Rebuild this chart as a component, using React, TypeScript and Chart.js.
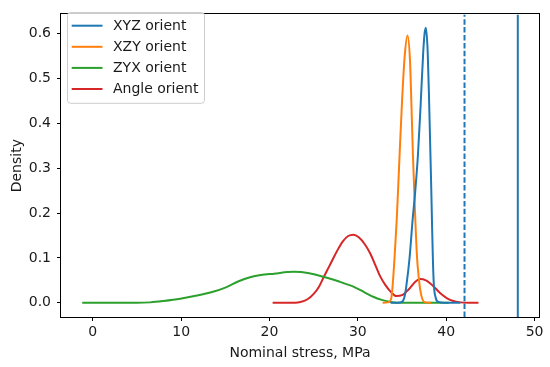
import React, { useEffect, useRef } from "react";
import { Chart, registerables } from "chart.js";

Chart.register(...registerables);

// ---- data ----
const seriesNames = ["XYZ orient", "XZY orient", "ZYX orient", "Angle orient"];

const xyzX = [33.7, 34.5, 35.0, 35.3, 35.5, 35.85, 36.2, 36.5, 36.8, 37.1, 37.4, 37.55, 37.7, 37.9, 38.05, 38.2, 38.3, 38.4, 38.5, 38.6, 38.8, 39.1, 39.8, 41.6];
const xyzY = [0, 0, 0.002, 0.015, 0.04, 0.1, 0.186, 0.25, 0.33, 0.44, 0.56, 0.6, 0.613, 0.56, 0.46, 0.34, 0.26, 0.17, 0.09, 0.04, 0.012, 0.002, 0, 0];

const xzyX = [32.8, 33.4, 33.75, 33.9, 34.15, 34.4, 34.7, 35.0, 35.3, 35.62, 35.9, 36.05, 36.23, 36.5, 36.7, 36.9, 37.05, 37.3, 37.6, 38.3];
const xzyY = [0, 0.001, 0.008, 0.03, 0.1, 0.186, 0.32, 0.45, 0.55, 0.596, 0.54, 0.45, 0.33, 0.186, 0.1, 0.055, 0.03, 0.008, 0.001, 0];

const zyxX = [-1.2, 2, 5, 6.5, 8, 9.9, 11.5, 13.5, 15, 16.5, 17.8, 19, 20.5, 22.7, 24.5, 26.1, 27.8, 29.5, 30.7, 31.8, 32.8, 33.7, 35, 37, 40.3];
const zyxY = [0, 0, 0, 0.001, 0.004, 0.009, 0.015, 0.024, 0.034, 0.048, 0.057, 0.062, 0.065, 0.069, 0.066, 0.058, 0.048, 0.036, 0.024, 0.013, 0.006, 0.002, 0, 0, 0];

const angleX = [20.35, 22, 23.5, 24.3, 25.0, 25.6, 26.1, 26.8, 27.6, 28.3, 28.9, 29.5, 30.1, 30.8, 31.4, 32.0, 32.5, 33.1, 33.7, 34.35, 35.0, 35.5, 35.9, 36.5, 37.05, 37.7, 38.2, 38.75, 39.4, 40.1, 40.8, 41.6, 42.5, 43.65];
const angleY = [0, 0, 0.002, 0.008, 0.02, 0.036, 0.056, 0.083, 0.114, 0.137, 0.149, 0.152, 0.146, 0.13, 0.11, 0.083, 0.06, 0.04, 0.025, 0.015, 0.017, 0.025, 0.033, 0.047, 0.053, 0.05, 0.043, 0.033, 0.02, 0.01, 0.004, 0.001, 0, 0];

const dashedLineX = 42.07;
const solidLineX = 48.1;

const xTicks = [0, 10, 20, 30, 40, 50];
const yTicks = [0, 0.1, 0.2, 0.3, 0.4, 0.5, 0.6];
const xMin = -3.6;
const xMax = 50.5;
const yMin = -0.0316;
const yMax = 0.643;

const xTitle = "Nominal stress, MPa";
const yTitle = "Density";

// ---- styles ----
const colors = ["#1f77b4", "#ff7f0e", "#2ca02c", "#d62728"];
const FONT = "DejaVu Sans";
const FS = 14;
const TEXT = "#1a1a1a";

const pts = (xs: number[], ys: number[]) => xs.map((x, i) => ({ x, y: ys[i] }));

const framePlugin = {
  id: "frame",
  afterDatasetsDraw(chart: any) {
    const { ctx, chartArea: a } = chart;
    ctx.save();
    ctx.strokeStyle = "#000";
    ctx.lineWidth = 1;
    ctx.strokeRect(Math.round(a.left) - 0.5, Math.round(a.top) - 0.5, Math.round(a.right - a.left) + 1, Math.round(a.bottom - a.top) + 1);
    ctx.restore();
  },
};

const legendPlugin = {
  id: "mplLegend",
  afterDraw(chart: any) {
    const { ctx } = chart;
    ctx.save();
    ctx.font = `${FS}px "${FONT}"`;
    const left = 67.5;
    const top = 12.5;
    const rowH = 21.1;
    const firstRow = 25.7;
    const textX = 113;
    let maxW = 0;
    seriesNames.forEach((n) => (maxW = Math.max(maxW, ctx.measureText(n).width)));
    const right = textX + maxW + 6;
    const bottom = 103.3;
    const r = 3;
    ctx.beginPath();
    ctx.moveTo(left + r, top);
    ctx.lineTo(right - r, top);
    ctx.quadraticCurveTo(right, top, right, top + r);
    ctx.lineTo(right, bottom - r);
    ctx.quadraticCurveTo(right, bottom, right - r, bottom);
    ctx.lineTo(left + r, bottom);
    ctx.quadraticCurveTo(left, bottom, left, bottom - r);
    ctx.lineTo(left, top + r);
    ctx.quadraticCurveTo(left, top, left + r, top);
    ctx.closePath();
    ctx.fillStyle = "rgba(255,255,255,0.8)";
    ctx.fill();
    ctx.strokeStyle = "#cccccc";
    ctx.lineWidth = 1;
    ctx.stroke();
    seriesNames.forEach((n, i) => {
      const y = firstRow + i * rowH;
      ctx.beginPath();
      ctx.strokeStyle = colors[i];
      ctx.lineWidth = 2;
      ctx.moveTo(71.7, y);
      ctx.lineTo(102.5, y);
      ctx.stroke();
      ctx.fillStyle = TEXT;
      ctx.textBaseline = "middle";
      ctx.textAlign = "left";
      ctx.fillText(n, textX, y + 0.5);
    });
    ctx.restore();
  },
};

export default function App() {
  const ref = useRef<HTMLCanvasElement | null>(null);
  useEffect(() => {
    document.body.style.margin = "0";
    if (!ref.current) return;
    const curve = (xs: number[], ys: number[], i: number) => ({
      label: seriesNames[i],
      data: pts(xs, ys),
      borderColor: colors[i],
      backgroundColor: colors[i],
      borderWidth: 2,
      pointRadius: 0,
      fill: false,
      cubicInterpolationMode: "monotone" as const,
    });
    const vline = (x: number, dash: number[]) => ({
      label: "",
      data: [
        { x, y: yMin },
        { x, y: yMax },
      ],
      borderColor: colors[0],
      borderWidth: 2,
      borderDash: dash,
      pointRadius: 0,
      fill: false,
      tension: 0,
    });
    const chart = new Chart(ref.current, {
      type: "line",
      data: {
        datasets: [
          curve(xyzX, xyzY, 0),
          curve(xzyX, xzyY, 1),
          curve(zyxX, zyxY, 2),
          curve(angleX, angleY, 3),
          vline(dashedLineX, [5.5, 2.4]),
          vline(solidLineX, []),
        ] as any,
      },
      options: {
        animation: false,
        responsive: false,
        devicePixelRatio: 1,
        layout: { padding: { top: 6, right: 11, left: 0, bottom: 0 } },
        plugins: { legend: { display: false }, tooltip: { enabled: false } },
        scales: {
          x: {
            type: "linear",
            min: xMin,
            max: xMax,
            afterBuildTicks: (s: any) => {
              s.ticks = xTicks.map((v) => ({ value: v }));
            },
            afterFit: (s: any) => {
              s.height = 50;
            },
            ticks: {
              autoSkip: false,
              maxRotation: 0,
              padding: 3,
              color: TEXT,
              font: { family: FONT, size: FS },
              callback: (v: any) => String(v),
            },
            grid: { drawOnChartArea: false, drawTicks: true, tickLength: 4, color: "#000", tickWidth: 1 },
            border: { display: false },
            title: {
              display: true,
              text: xTitle,
              color: TEXT,
              font: { family: FONT, size: FS },
              padding: { top: 0, bottom: 5 },
            },
          },
          y: {
            type: "linear",
            min: yMin,
            max: yMax,
            afterBuildTicks: (s: any) => {
              s.ticks = yTicks.map((v) => ({ value: v }));
            },
            afterFit: (s: any) => {
              s.width = 61;
            },
            ticks: {
              autoSkip: false,
              padding: 6,
              color: TEXT,
              font: { family: FONT, size: FS },
              callback: (v: any) => Number(v).toFixed(1),
            },
            grid: { drawOnChartArea: false, drawTicks: true, tickLength: 4, color: "#000", tickWidth: 1 },
            border: { display: false },
            title: {
              display: true,
              text: yTitle,
              color: TEXT,
              font: { family: FONT, size: FS },
              padding: { top: 8.5, bottom: 0 },
            },
          },
        },
      },
      plugins: [framePlugin, legendPlugin],
    });
    return () => chart.destroy();
  }, []);
  return (
    <div style={{ width: 550, height: 367 }}>
      <canvas ref={ref} width={550} height={367} />
    </div>
  );
}
